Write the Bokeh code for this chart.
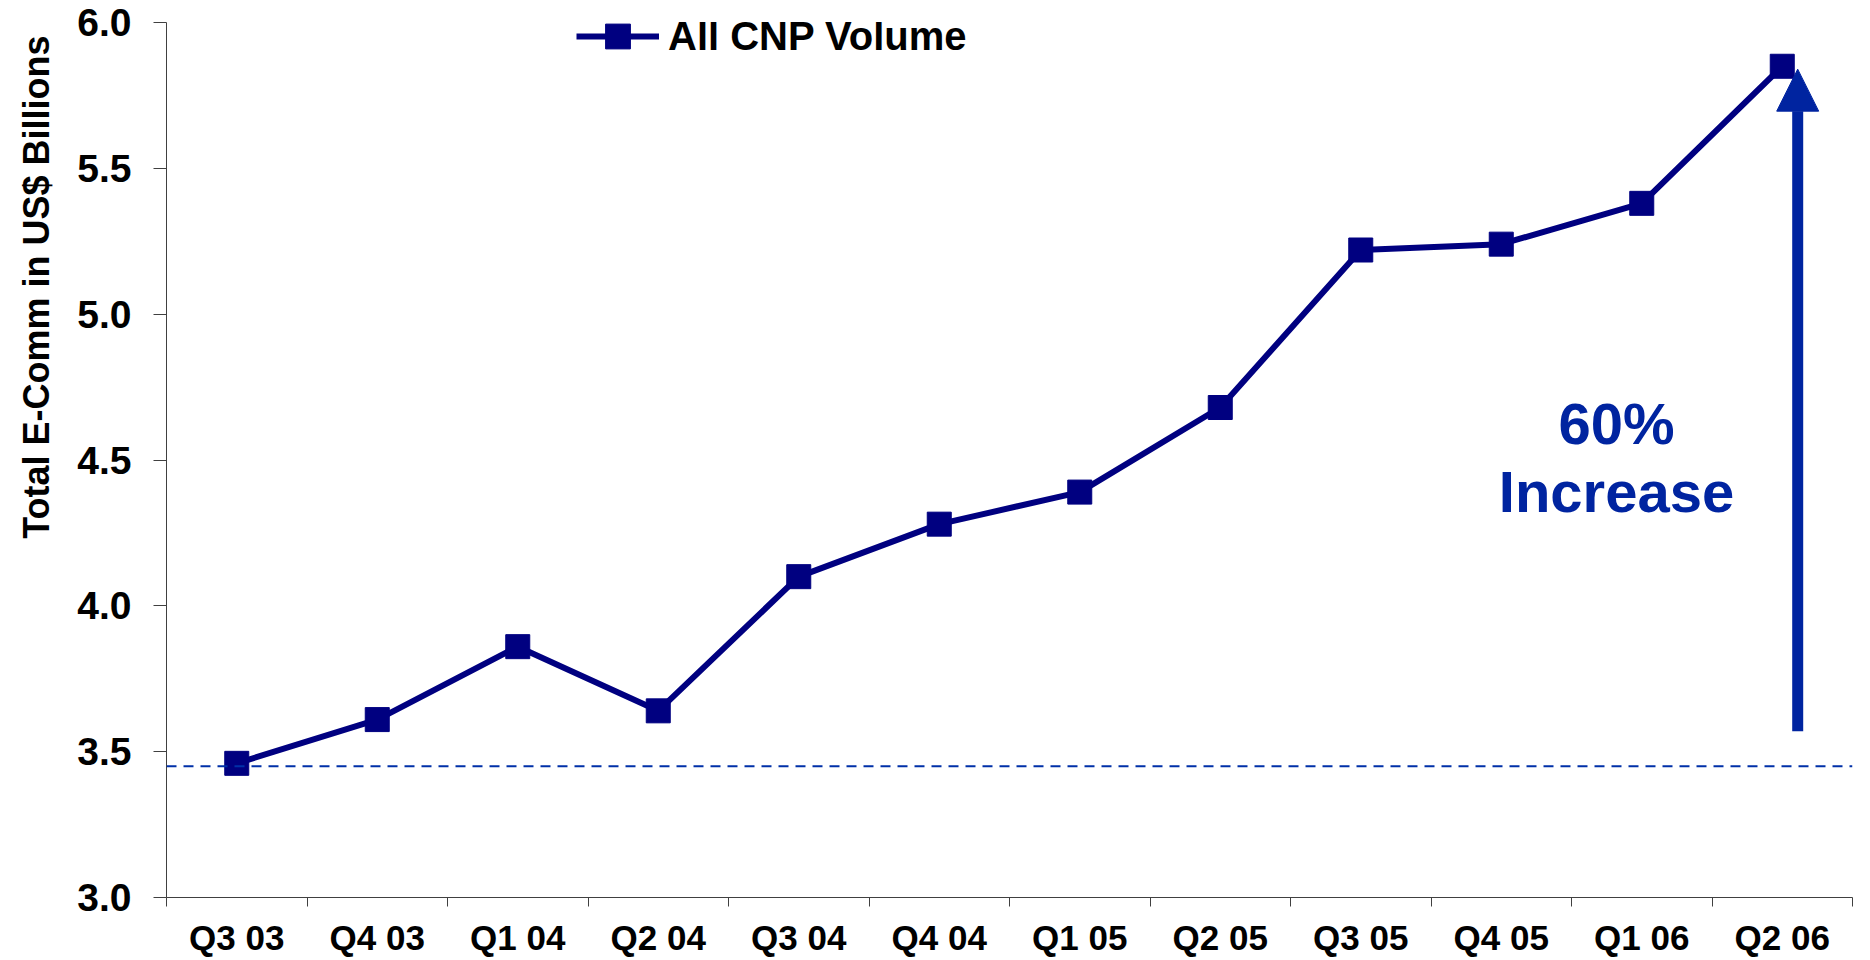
import math
from bokeh.plotting import figure
from bokeh.models import (Range1d, FixedTicker, PrintfTickFormatter, Span, Label, Title,
                          Arrow, NormalHead, Legend, LegendItem)
from bokeh.embed import file_html
from bokeh.resources import INLINE

# ---- data ----
categories = ["Q3 03", "Q4 03", "Q1 04", "Q2 04", "Q3 04", "Q4 04",
              "Q1 05", "Q2 05", "Q3 05", "Q4 05", "Q1 06", "Q2 06"]
volume = [3.46, 3.61, 3.86, 3.64, 4.10, 4.28, 4.39, 4.68, 5.22, 5.24, 5.38, 5.85]
y_ticks = [3.0, 3.5, 4.0, 4.5, 5.0, 5.5, 6.0]
baseline_value = 3.45
series_name = "All CNP Volume"
y_title = "Total E-Comm in US$ Billions"
note_lines = ["60%", "Increase"]

# ---- styles ----
NAVY = "#000080"
BLUE = "#0024A0"
AXIS = "#404040"
FONT = "Liberation Sans"

n = len(categories)
xs = [i + 0.5 for i in range(n)]

p = figure(width=1870, height=960, output_backend="svg", toolbar_location=None,
           x_range=Range1d(0, n), y_range=Range1d(y_ticks[0], y_ticks[-1]),
           min_border_left=165, min_border_right=18, min_border_top=22,
           min_border_bottom=63)
p.outline_line_color = None
p.xgrid.visible = False
p.ygrid.visible = False
p.background_fill_color = "white"
p.border_fill_color = "white"

# x axis: tick marks at category boundaries, labels at centres
xa = p.xaxis[0]
xa.ticker = FixedTicker(ticks=xs, minor_ticks=list(range(n + 1)))
xa.major_label_overrides = {x: c for x, c in zip(xs, categories)}
xa.major_tick_out = 0
xa.major_tick_in = 0
xa.minor_tick_out = 9
xa.minor_tick_in = 0
xa.axis_line_color = AXIS
xa.minor_tick_line_color = AXIS
xa.major_label_standoff = 11
xa.major_label_text_font = FONT
xa.major_label_text_font_style = "bold"
xa.major_label_text_font_size = "35px"
xa.major_label_text_color = "black"

ya = p.yaxis[0]
ya.ticker = FixedTicker(ticks=y_ticks, minor_ticks=[])
ya.formatter = PrintfTickFormatter(format="%.1f")
ya.major_tick_out = 13
ya.major_tick_in = 0
ya.minor_tick_out = 0
ya.minor_tick_in = 0
ya.axis_line_color = AXIS
ya.major_tick_line_color = AXIS
ya.major_label_standoff = 22
ya.major_label_text_font = FONT
ya.major_label_text_font_style = "bold"
ya.major_label_text_font_size = "39px"
ya.major_label_text_color = "black"

# y axis title in the left panel, toward the top as in the original
p.add_layout(Title(text=y_title, align="right", vertical_align="top", offset=13,
                   standoff=31, text_font=FONT, text_font_style="bold",
                   text_font_size="36px", text_color="black"), "left")

# baseline dashed line
p.add_layout(Span(location=baseline_value, dimension="width", line_color="#0030A8",
                  line_width=2, line_dash="10 7"))

# series
lr = p.line(xs, volume, line_color=NAVY, line_width=6)
sr = p.scatter(xs, volume, marker="square", size=24, fill_color=NAVY, line_color=NAVY)

legend = Legend(items=[LegendItem(label=series_name, renderers=[lr, sr])],
                location=(410, 830), glyph_width=83, glyph_height=62,
                label_standoff=9, padding=0, margin=0, spacing=0,
                border_line_color=None, background_fill_alpha=0,
                label_text_font=FONT, label_text_font_style="bold",
                label_text_font_size="40px", label_text_color="black")
p.add_layout(legend)

# arrow annotation
p.add_layout(Arrow(end=NormalHead(size=42, fill_color=BLUE, line_color=BLUE, line_width=1),
                   x_start=11.61, y_start=3.57, x_end=11.61, y_end=5.84,
                   line_color=BLUE, line_width=11))

p.add_layout(Label(x=10.32, y=4.626, text=note_lines[0], text_align="center",
                   text_baseline="alphabetic", text_font=FONT, text_font_style="bold",
                   text_font_size="58px", text_color=BLUE))
p.add_layout(Label(x=10.32, y=4.393, text=note_lines[1], text_align="center",
                   text_baseline="alphabetic", text_font=FONT, text_font_style="bold",
                   text_font_size="58px", text_color=BLUE))

open("out.html", "w").write(file_html(p, INLINE))
